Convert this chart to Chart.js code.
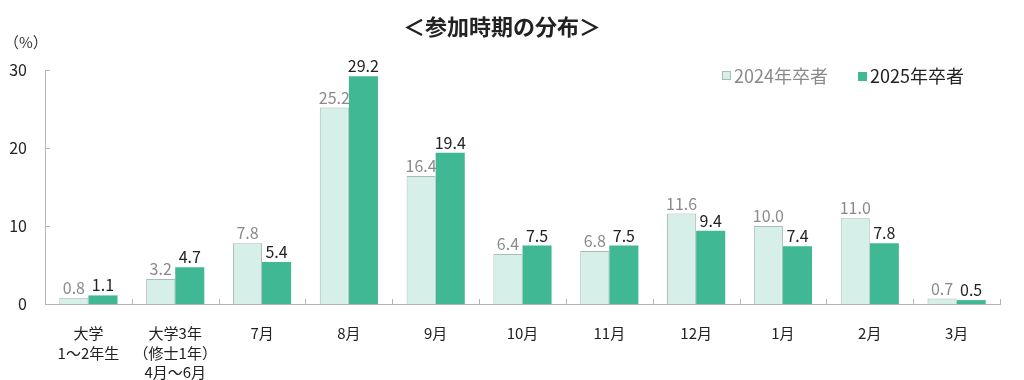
<!DOCTYPE html>
<html><head><meta charset="utf-8">
<script src="https://cdn.jsdelivr.net/npm/chart.js@4/dist/chart.umd.min.js"></script>
<style>html,body{margin:0;padding:0;background:#fff}#wrap{width:1024px;height:380px;position:relative}</style>
</head><body><div id="wrap"><canvas id="c" width="1024" height="380"></canvas></div>
<script>
const categories = [["大学","1～2年生"],["大学3年","（修士1年）","4月～6月"],"7月","8月","9月","10月","11月","12月","1月","2月","3月"];
const series2024 = [0.8,3.2,7.8,25.2,16.4,6.4,6.8,11.6,10.0,11.0,0.7];
const series2025 = [1.1,4.7,5.4,29.2,19.4,7.5,7.5,9.4,7.4,7.8,0.5];
const seriesNames = ["2024年卒者","2025年卒者"];
const yTicks = [0,10,20,30];
const titleText = "＜参加時期の分布＞";
const unitText = "（%）";

const FONT = "'Noto Sans CJK JP','Noto Sans',sans-serif";
const C_LIGHT = "#d7efe9", C_LIGHT_B = "#a9bcb7", C_DARK = "#41b894";

const overlay = {
  id: 'overlay',
  afterDraw(chart) {
    const ctx = chart.ctx, xs = chart.scales.x, ys = chart.scales.y;
    ctx.save();
    ctx.strokeStyle = "#b5b5b5"; ctx.lineWidth = 1;
    const y0 = ys.getPixelForValue(0);
    for (let i = 0; i <= categories.length; i++) {
      const x = Math.round(xs.left + (xs.right - xs.left) * i / categories.length) + 0.5;
      ctx.beginPath(); ctx.moveTo(x, y0); ctx.lineTo(x, y0 - 5); ctx.stroke();
    }
    yTicks.forEach(v => {
      const y = Math.round(ys.getPixelForValue(v)) + 0.5;
      ctx.beginPath(); ctx.moveTo(xs.left, y); ctx.lineTo(xs.left + 5, y); ctx.stroke();
    });
    ctx.font = "16px " + FONT; ctx.textAlign = "center"; ctx.textBaseline = "bottom";
    [0,1].forEach(d => {
      const meta = chart.getDatasetMeta(d);
      const vals = chart.data.datasets[d].data;
      ctx.fillStyle = d === 0 ? "#8a8a8a" : "#222";
      meta.data.forEach((bar, i) => {
        ctx.fillText(vals[i].toFixed(1), bar.x, bar.y - 2);
      });
    });
    ctx.font = "bold 22px " + FONT; ctx.fillStyle = "#222"; ctx.textAlign = "center"; ctx.textBaseline = "middle";
    ctx.fillText(titleText, 502, 27);
    ctx.font = "15px " + FONT; ctx.textAlign = "left"; ctx.fillStyle = "#333";
    ctx.fillText(unitText, 4, 42);
    ctx.font = "18px " + FONT; ctx.textBaseline = "middle";
    const ly = 76;
    ctx.fillStyle = C_LIGHT; ctx.fillRect(722.5, ly - 4.5, 8, 8);
    ctx.strokeStyle = C_LIGHT_B; ctx.strokeRect(722.5, ly - 4.5, 8, 8);
    ctx.fillStyle = "#8a8a8a"; ctx.fillText(seriesNames[0], 734, ly);
    ctx.fillStyle = C_DARK; ctx.fillRect(858, ly - 4, 9, 9);
    ctx.fillStyle = "#222"; ctx.fillText(seriesNames[1], 870, ly);
    ctx.restore();
  }
};

new Chart(document.getElementById('c'), {
  type: 'bar',
  data: {
    labels: categories,
    datasets: [
      { label: seriesNames[0], data: series2024, backgroundColor: C_LIGHT, borderColor: C_LIGHT_B, borderWidth: 1, borderSkipped: 'bottom', barPercentage: 1, categoryPercentage: 0.67 },
      { label: seriesNames[1], data: series2025, backgroundColor: C_DARK, borderWidth: 0, barPercentage: 1, categoryPercentage: 0.67 }
    ]
  },
  options: {
    responsive: false, animation: false,
    layout: { padding: { top: 70, right: 24, left: 0, bottom: 0 } },
    plugins: { legend: { display: false }, tooltip: { enabled: false } },
    scales: {
      x: {
        grid: { display: false },
        border: { display: true, color: "#b5b5b5" },
        ticks: { color: "#222", font: { family: FONT, size: 15, lineHeight: 1.3 }, padding: 12, maxRotation: 0, autoSkip: false },
        afterFit(s) { s.height = 76; }
      },
      y: {
        min: 0, max: 30,
        afterBuildTicks(s) { s.ticks = yTicks.map(v => ({ value: v })); },
        grid: { display: false },
        border: { display: true, color: "#b5b5b5" },
        ticks: { color: "#222", font: { family: FONT, size: 16 }, padding: 10 },
        afterFit(s) { s.width = 45; }
      }
    }
  },
  plugins: [overlay]
});
</script></body></html>
